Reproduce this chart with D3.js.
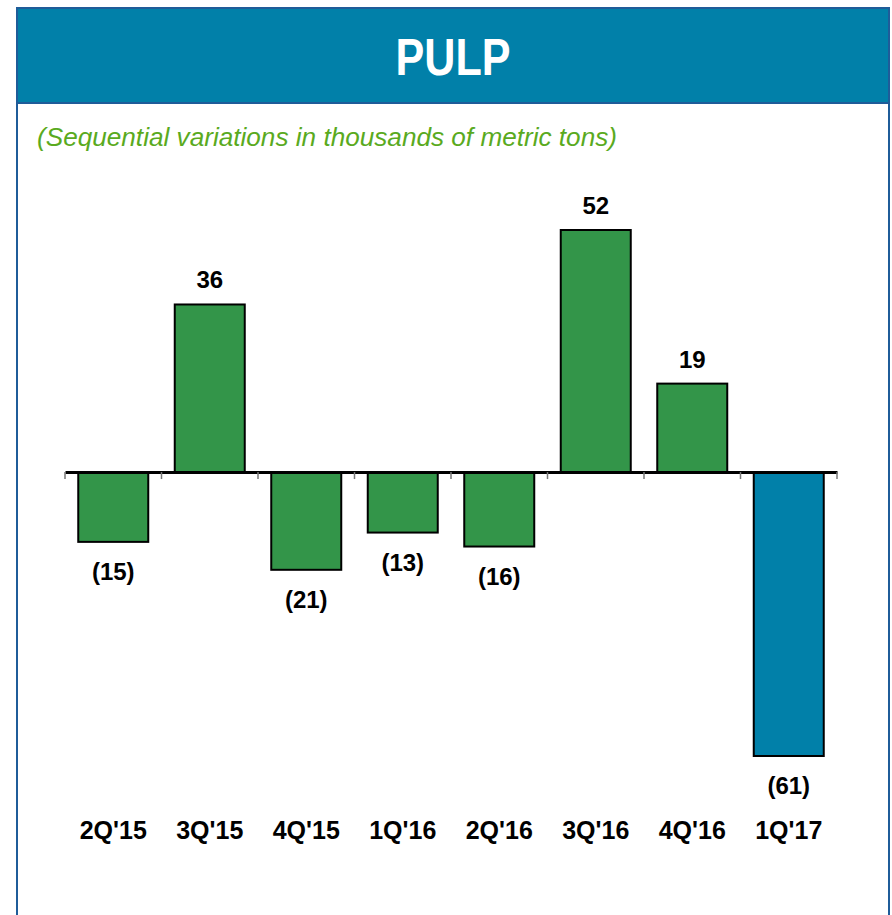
<!DOCTYPE html>
<html><head><meta charset="utf-8">
<script src="https://cdn.jsdelivr.net/npm/d3@7"></script>
<style>body{margin:0;background:#fff}svg{display:block}</style>
</head><body>
<script>
const categories = ["2Q'15","3Q'15","4Q'15","1Q'16","2Q'16","3Q'16","4Q'16","1Q'17"];
const values = [-15, 36, -21, -13, -16, 52, 19, -61];
const valueLabels = ["(15)","36","(21)","(13)","(16)","52","19","(61)"];
const highlight = [false,false,false,false,false,false,false,true];
const title = "PULP";
const subtitle = "(Sequential variations in thousands of metric tons)";

const W = 892, H = 915;
const svg = d3.select("body").append("svg").attr("width", W).attr("height", H);
const font = "Arial, 'Liberation Sans', sans-serif";

// frame
svg.append("rect").attr("x",17).attr("y",8).attr("width",872).attr("height",H+20)
  .attr("fill","#fff").attr("stroke","#1f5c99").attr("stroke-width",2);
svg.append("rect").attr("x",17).attr("y",8).attr("width",872).attr("height",95)
  .attr("fill","#0180a9").attr("stroke","#1f5c99").attr("stroke-width",2);
svg.append("text").attr("x",453).attr("y",75).attr("text-anchor","middle")
  .attr("font-family",font).attr("font-weight","bold").attr("font-size",52)
  .attr("fill","#fff").attr("textLength",115).attr("lengthAdjust","spacingAndGlyphs").text(title);
svg.append("text").attr("x",37).attr("y",146)
  .attr("font-family",font).attr("font-style","italic").attr("font-size",26)
  .attr("fill","#5aaa1e").attr("textLength",580).attr("lengthAdjust","spacingAndGlyphs").text(subtitle);

const x = d3.scaleBand().domain(categories).range([65, 837]).paddingInner(0.275).paddingOuter(0.1375);
const xb = d3.scaleBand().domain(categories).range([65, 837]);
const y = d3.scaleLinear().domain([-61, 52]).range([756, 230]);

// bars
svg.selectAll("rect.bar").data(values).join("rect").attr("class","bar")
  .attr("x",(d,i)=>xb(categories[i]) + (xb.bandwidth()-70)/2)
  .attr("width",70)
  .attr("y",d=>y(Math.max(0,d)))
  .attr("height",d=>Math.abs(y(d)-y(0)))
  .attr("fill",(d,i)=>highlight[i] ? "#0180a9" : "#339549")
  .attr("stroke","#000").attr("stroke-width",2);

// axis
const axis = d3.axisBottom(xb).tickSize(0).tickFormat("");
const g = svg.append("g").attr("transform",`translate(0,${y(0)})`).call(axis);
g.select(".domain").attr("stroke","#000").attr("stroke-width",3);
const edges = categories.map(c=>xb(c)).concat([xb.range()[1]]);
g.selectAll("line.edge").data(edges).join("line").attr("class","edge")
  .attr("x1",d=>d).attr("x2",d=>d).attr("y1",0).attr("y2",7)
  .attr("stroke","#777").attr("stroke-width",1.5);

// value labels
svg.selectAll("text.val").data(values).join("text").attr("class","val")
  .attr("x",(d,i)=>xb(categories[i])+xb.bandwidth()/2)
  .attr("y",d=> d>=0 ? y(d)-16 : y(d)+38)
  .attr("text-anchor","middle").attr("font-family",font).attr("font-weight","bold")
  .attr("font-size",24).attr("fill","#000").text((d,i)=>valueLabels[i]);

// category labels
svg.selectAll("text.cat").data(categories).join("text").attr("class","cat")
  .attr("x",d=>xb(d)+xb.bandwidth()/2).attr("y",839)
  .attr("text-anchor","middle").attr("font-family",font).attr("font-weight","bold")
  .attr("font-size",25).attr("fill","#000").text(d=>d);
</script>
</body></html>
